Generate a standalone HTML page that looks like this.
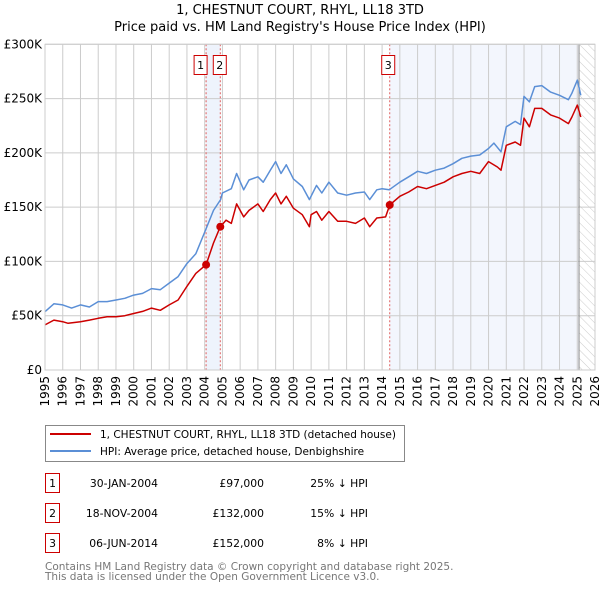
<!DOCTYPE html>
<html><head><meta charset="utf-8"><style>
body{margin:0;background:#fff;}
svg{font-family:"DejaVu Sans","Liberation Sans",sans-serif;}
</style></head><body>
<svg id="c" width="600" height="590" xmlns="http://www.w3.org/2000/svg">
<defs><pattern id="hatch" width="6" height="6" patternUnits="userSpaceOnUse" patternTransform="rotate(-45)"><line x1="0" y1="0" x2="0" y2="6" stroke="#ccc" stroke-width="1"/></pattern></defs>
<text x="300" y="14" text-anchor="middle" font-size="13">1, CHESTNUT COURT, RHYL, LL18 3TD</text>
<text x="300" y="31" text-anchor="middle" font-size="13">Price paid vs. HM Land Registry's House Price Index (HPI)</text>
<g id="plot"></g>
<g>
<rect x="45.5" y="425.5" width="359" height="36" fill="#fff" stroke="#888"/>
<line x1="50" y1="434" x2="91" y2="434" stroke="#cc0000" stroke-width="2"/>
<text x="100" y="438" font-size="10.5">1, CHESTNUT COURT, RHYL, LL18 3TD (detached house)</text>
<line x1="50" y1="451" x2="91" y2="451" stroke="#5b8fd6" stroke-width="2"/>
<text x="100" y="455" font-size="10.5">HPI: Average price, detached house, Denbighshire</text>
</g>
<g id="table" font-size="10.8"></g>
<text x="45" y="570" font-size="10.5" fill="#777">Contains HM Land Registry data © Crown copyright and database right 2025.</text>
<text x="45" y="580" font-size="10.5" fill="#777">This data is licensed under the Open Government Licence v3.0.</text>
</svg>
<script>
const hpiX=[1995,1995.5,1996,1996.5,1997,1997.5,1998,1998.5,1999,1999.5,2000,2000.5,2001,2001.5,2002,2002.5,2003,2003.5,2004,2004.5,2004.9,2005,2005.5,2005.8,2006.2,2006.5,2007,2007.3,2007.7,2008,2008.3,2008.6,2009,2009.5,2009.9,2010.3,2010.6,2011,2011.5,2012,2012.5,2013,2013.3,2013.7,2014,2014.4,2015,2015.5,2016,2016.5,2017,2017.5,2018,2018.5,2019,2019.5,2020,2020.3,2020.7,2021,2021.5,2021.8,2022,2022.3,2022.6,2023,2023.5,2024,2024.5,2024.7,2025,2025.2];
const hpiY=[53.7,61,60,57,60,58,63,63,64.5,66,69,70.6,75,74,80,86,98,107,127,147,157,163,167,181,166,175,178,173,184,192,181,189,176,169,157,170,163,173,163,161,163,164,157,166,167,166,173,178,183,181,184,186,190,195,197,198,204,209,201,224,229,226,252,247,261,262,256,253,249,255,267,253];
const ppX=[1995,1995.5,1996,1996.3,1997,1997.5,1998,1998.5,1999,1999.5,2000,2000.5,2001,2001.5,2002,2002.5,2003,2003.5,2004.08,2004.5,2004.88,2005.2,2005.5,2005.8,2006.2,2006.5,2007,2007.3,2007.7,2008,2008.3,2008.6,2009,2009.5,2009.9,2010,2010.3,2010.6,2011,2011.5,2012,2012.5,2013,2013.3,2013.7,2014.2,2014.43,2015,2015.5,2016,2016.5,2017,2017.5,2018,2018.5,2019,2019.5,2020,2020.5,2020.7,2021,2021.5,2021.8,2022,2022.3,2022.6,2023,2023.5,2024,2024.5,2024.7,2025,2025.2];
const ppY=[41.5,46,44.5,43,44.5,46,47.6,49,49,50,52,54,57,55,60,64.5,77,89,97,117,132,138,135,153,141,147,153,146,157,163,153,160,149,143,132,143,146,138,146,137,137,135,140,132,140,141,152,160,164,169,167,170,173,178,181,183,181,192,187,184,207,210,207,232,224,241,241,235,232,227,233,244,233];
const saleYear=[2004.08,2004.88,2014.43];
const salePrice=[97,132,152];
const saleDate=["30-JAN-2004","18-NOV-2004","06-JUN-2014"];
const salePriceLbl=["£97,000","£132,000","£152,000"];
const saleHpi=["25% ↓ HPI","15% ↓ HPI","8% ↓ HPI"];
const yTicks=[0,50,100,150,200,250,300];
const yTickLbl=["£0","£50K","£100K","£150K","£200K","£250K","£300K"];
const NS="http://www.w3.org/2000/svg";
const L=45,R=595,T=44.3,B=370;
const sx=y=>L+(y-1995)/(2026-1995)*(R-L);
const sy=v=>B-v/300*(B-T);
const plot=document.getElementById('plot');
function mk(tag,attrs,parent){const e=document.createElementNS(NS,tag);for(const k in attrs)e.setAttribute(k,attrs[k]);(parent||plot).appendChild(e);return e;}
let e;
e=mk('rect',{x:L,y:T,width:R-L,height:B-T,fill:'#fff'});


e=mk('rect',{x:sx(saleYear[0]),y:T,width:sx(saleYear[1])-sx(saleYear[0]),height:B-T,fill:'#eef3fc'});


e=mk('rect',{x:sx(saleYear[2]),y:T,width:sx(2025.1)-sx(saleYear[2]),height:B-T,fill:'#f3f6fd'});


e=mk('rect',{x:sx(2025.1),y:T,width:R-sx(2025.1),height:B-T,fill:'url(#hatch)'});


for(let yr=1995;yr<=2026;yr++){
 e=mk('line',{x1:sx(yr),x2:sx(yr),y1:T,y2:B,stroke:'#ccc','stroke-width':1});
 
 
 e=mk('text',{x:0,y:0,'font-size':12,'text-anchor':'end',transform:`translate(${sx(yr)+4},${B+6}) rotate(-90)`});
 e.textContent=yr;
 
 
}
yTicks.forEach((v,i)=>{
 e=mk('line',{x1:L,x2:R,y1:sy(v),y2:sy(v),stroke:'#ccc','stroke-width':1});
 
 
 e=mk('text',{x:L-3,y:sy(v)+4,'font-size':12,'text-anchor':'end'});
 e.textContent=yTickLbl[i];
 
 
});
e=mk('line',{x1:sx(2025.1),x2:sx(2025.1),y1:T,y2:B,stroke:'#888','stroke-width':1});


saleYear.forEach((yr,i)=>{
 e=mk('line',{x1:sx(yr),x2:sx(yr),y1:T,y2:B,stroke:'#e06060','stroke-width':1,'stroke-dasharray':'2,2'});
 
 
});
function path(xs,ys,col,name){
 const d=xs.map((x,i)=>(i?'L':'M')+sx(x).toFixed(1)+','+sy(ys[i]).toFixed(1)).join('');
 e=mk('path',{d:d,fill:'none',stroke:col,'stroke-width':1.5,'stroke-linejoin':'round'});
 
 
}
path(hpiX,hpiY,'#5b8fd6','hpi-line');
path(ppX,ppY,'#cc0000','price-paid-line');
saleYear.forEach((yr,i)=>{
 e=mk('circle',{cx:sx(yr),cy:sy(salePrice[i]),r:4,fill:'#cc0000'});
 
 
});
saleYear.forEach((yr,i)=>{
 const bx=(i==0?sx(yr)-10:(i==1?sx(yr)-5:sx(yr)-6));
 e=mk('rect',{x:bx-2,y:55.5,width:13,height:19,fill:'#fff',stroke:'#cc0000'});
 
 
 e=mk('text',{x:bx+4.5,y:69,'font-size':11,'text-anchor':'middle'});
 e.textContent=i+1;
 
 
});
e=mk('rect',{x:L,y:T,width:R-L,height:B-T,fill:'none',stroke:'#ccc'});


const tb=document.getElementById('table');
saleDate.forEach((d,i)=>{
 const cy=483+i*30;
 e=mk('rect',{x:45.5,y:cy-9.5,width:14,height:19,fill:'#fff',stroke:'#cc0000'},tb);
 
 
 e=mk('text',{x:52.5,y:cy+4,'text-anchor':'middle'},tb);e.textContent=i+1;
 
 
 e=mk('text',{x:158,y:cy+4,'text-anchor':'end'},tb);e.textContent=d;
 
 
 e=mk('text',{x:264,y:cy+4,'text-anchor':'end'},tb);e.textContent=salePriceLbl[i];
 
 
 e=mk('text',{x:368,y:cy+4,'text-anchor':'end'},tb);e.textContent=saleHpi[i];
 
 
});
</script>
</body></html>
